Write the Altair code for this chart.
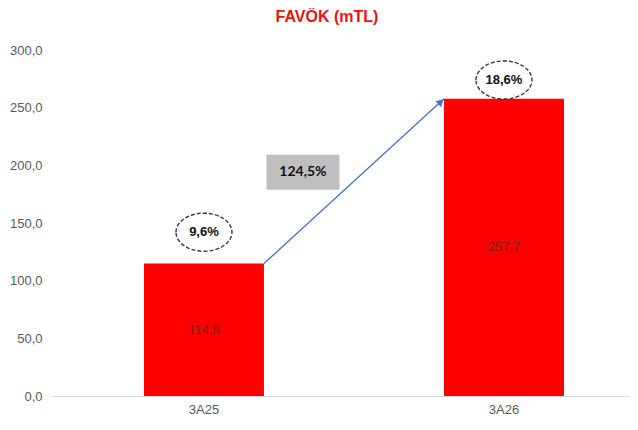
import altair as alt
import pandas as pd

categories = ["3A25", "3A26"]
values = [114.8, 257.7]
value_labels = ["114,8", "257,7"]
margin_labels = ["9,6%", "18,6%"]
margin_label_y = [142.0, 274.0]
growth_label = ["124,5%"]
growth_label_y = [194.0]
y_ticks = [0, 50, 100, 150, 200, 250, 300]

NARROW = "Liberation Sans Narrow, Arial Narrow, Liberation Sans, sans-serif"

df = pd.DataFrame({
    "cat": categories,
    "value": values,
    "label": value_labels,
    "margin": margin_labels,
    "my": margin_label_y,
})
arrow_df = pd.DataFrame({
    "from": [categories[0]],
    "to": [categories[1]],
    "y1": [values[0]],
    "y2": [values[1]],
    "g": growth_label,
    "gy": growth_label_y,
})

x_scale = alt.Scale(domain=categories, paddingInner=0.6, paddingOuter=0.2633, align=0.582)
y_scale = alt.Scale(domain=[0, 300], nice=False)

x_axis = alt.Axis(title=None, labelAngle=0, ticks=False, domainColor="#d9d9d9",
                  domainWidth=1, labelColor="#595959", labelFont=NARROW,
                  labelFontSize=13, labelPadding=7)
y_axis = alt.Axis(title=None, values=y_ticks,
                  labelExpr="replace(format(datum.value, '.1f'), '.', ',')",
                  grid=False, domain=False, ticks=False, labelColor="#595959",
                  labelFont=NARROW, labelFontSize=13, labelPadding=10)

base = alt.Chart(df)

bars = base.mark_bar(color="#ff0000").encode(
    x=alt.X("cat:N", scale=x_scale, axis=x_axis),
    y=alt.Y("value:Q", scale=y_scale, axis=y_axis),
)

inner = base.transform_calculate(mid="datum.value / 2").mark_text(
    font=NARROW, fontSize=13, color="#7a1f1f"
).encode(
    x=alt.X("cat:N", scale=x_scale),
    y=alt.Y("mid:Q", scale=y_scale),
    text="label:N",
)

ellipse_path = "M -1 0 A 1 0.68 0 1 1 1 0 A 1 0.68 0 1 1 -1 0 Z"
ellipses = base.mark_point(
    shape=ellipse_path, size=3136, filled=True, fill="white", stroke="#3a3a3a",
    strokeWidth=1.4, strokeDash=[4, 2], opacity=1, fillOpacity=1, strokeOpacity=1
).encode(
    x=alt.X("cat:N", scale=x_scale),
    y=alt.Y("my:Q", scale=y_scale),
)
ellipse_text = base.mark_text(font=NARROW, fontSize=13, fontWeight="bold", color="#111111").encode(
    x=alt.X("cat:N", scale=x_scale),
    y=alt.Y("my:Q", scale=y_scale),
    text="margin:N",
)

abase = alt.Chart(arrow_df)
arrow_line = abase.mark_rule(color="#4472c4", strokeWidth=1.3).encode(
    x=alt.X("from:N", scale=x_scale, bandPosition=1),
    x2=alt.X2("to:N", bandPosition=0),
    y=alt.Y("y1:Q", scale=y_scale),
    y2=alt.Y2("y2:Q"),
)
arrow_head = abase.mark_point(
    shape="triangle-up", size=70, filled=True, color="#4472c4", opacity=1,
    angle=47.5, xOffset=-3, yOffset=3
).encode(
    x=alt.X("to:N", scale=x_scale, bandPosition=0),
    y=alt.Y("y2:Q", scale=y_scale),
)

rect_path = "M -1 -0.479 L 1 -0.479 L 1 0.479 L -1 0.479 Z"
gbox = abase.mark_point(
    shape=rect_path, size=5329, filled=True, color="#bfbfbf", opacity=1, xOffset=39
).encode(
    x=alt.X("from:N", scale=x_scale, bandPosition=1),
    y=alt.Y("gy:Q", scale=y_scale),
)
gtext = abase.mark_text(font="Lato, Open Sans, sans-serif", fontSize=14, fontWeight="bold",
                        color="#111111", xOffset=39).encode(
    x=alt.X("from:N", scale=x_scale, bandPosition=1),
    y=alt.Y("gy:Q", scale=y_scale),
    text="g:N",
)

chart = alt.layer(
    bars, inner, arrow_line, arrow_head, gbox, gtext, ellipses, ellipse_text
).properties(
    width=578,
    height=346,
    autosize=alt.AutoSizeParams(type="none"),
    padding={"left": 44, "top": 42, "right": 0, "bottom": 32},
    title=alt.TitleParams("FAVÖK (mTL)", color="#ee1111", font=NARROW, fontSize=16,
                          fontWeight="bold", anchor="middle", dx=-14, offset=19),
).configure_view(stroke=None)

chart.save("out.html", embed_options={"renderer": "svg", "actions": False})
